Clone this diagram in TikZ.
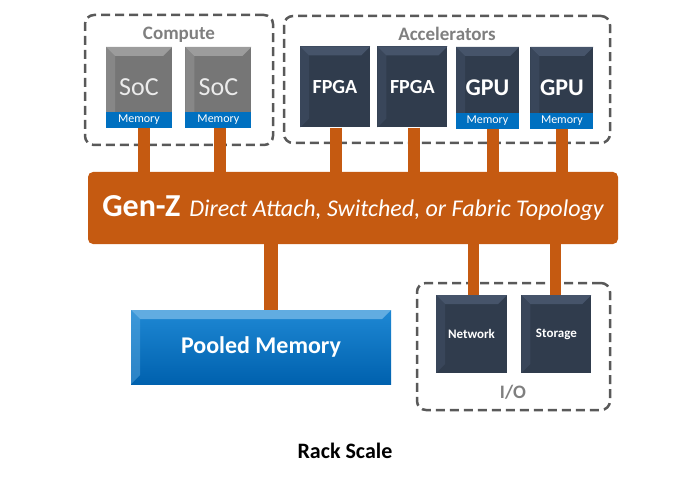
\documentclass[tikz,border=0pt]{standalone}
\usepackage{fontspec}
\setmainfont{Carlito}
\usetikzlibrary{positioning,calc}
\definecolor{genzorange}{HTML}{C55A11}
\definecolor{chipdark}{HTML}{303C4D}
\definecolor{chiptop}{HTML}{46546A}
\definecolor{socgray}{HTML}{767676}
\definecolor{soctop}{HTML}{9C9C9C}
\definecolor{memblue}{HTML}{0070C0}
\definecolor{pooltop}{HTML}{1E88D4}
\definecolor{poolbot}{HTML}{0061AE}
\definecolor{groupgray}{HTML}{595959}
\definecolor{labelgray}{HTML}{7F7F7F}

\begin{document}
\begin{tikzpicture}[x=1pt, y=-1pt,
    bevel/.style={path picture={
      \fill[#1] (path picture bounding box.north west) -- (path picture bounding box.north east)
        -- ([shift={(-9pt,-9pt)}]path picture bounding box.north east)
        -- ([shift={(9pt,-9pt)}]path picture bounding box.north west) -- cycle;
      \fill[#1, opacity=0.45] (path picture bounding box.north west) -- ([shift={(9pt,-9pt)}]path picture bounding box.north west)
        -- ([shift={(9pt,9pt)}]path picture bounding box.south west) -- (path picture bounding box.south west) -- cycle;}},
    chip/.style={fill=chipdark, text=white, inner sep=0pt, minimum width=66pt, minimum height=81pt, bevel=chiptop},
    soc/.style={chip, fill=socgray, bevel=soctop, text=white!92!black, font=\fontsize{26}{26}\selectfont},
    mem/.style={fill=memblue, text=white, inner sep=0pt, minimum width=66pt, minimum height=16pt, font=\fontsize{12}{12}\selectfont},
    group/.style={draw=groupgray, line width=2.5pt, dash pattern=on 9pt off 5pt, rounded corners=9pt},
    grouplabel/.style={text=labelgray, font=\bfseries\fontsize{19}{19}\selectfont},
    bus/.style={fill=genzorange, rounded corners=5pt, text=white, minimum width=530pt, minimum height=72pt},
    link/.style={draw=genzorange, line width=12pt}]
  \useasboundingbox (0,0) rectangle (700,478);

  % groups
  \node[group, minimum width=188pt, minimum height=130pt] (compute) at (179,80) {};
  \node[group, minimum width=326pt, minimum height=127pt] (accel) at (447,79.5) {};
  \node[group, minimum width=193pt, minimum height=127pt] (io) at (513.5,346.5) {};
  \node[grouplabel] (computelbl) at (179,35) {Compute};
  \node[grouplabel] (accellbl) at (447,34) {Accelerators};
  \node[grouplabel] (iolbl) at (513,392) {I/O};

  % compute
  \node[soc] (soc1) at (139,87.5) {SoC};
  \node[soc, right=13pt of soc1] (soc2) {SoC};
  \node[mem, anchor=south] (socmem1) at (soc1.south) {Memory};
  \node[mem, anchor=south] (socmem2) at (soc2.south) {Memory};

  % accelerators
  \node[chip, minimum width=70pt, font=\bfseries\fontsize{20}{20}\selectfont] (fpga1) at (335,87) {FPGA};
  \node[chip, minimum width=70pt, font=\bfseries\fontsize{20}{20}\selectfont, right=7pt of fpga1] (fpga2) {FPGA};
  \node[chip, minimum width=63pt, minimum height=82pt, font=\bfseries\fontsize{24}{24}\selectfont] (gpu1) at (487.5,88) {GPU};
  \node[chip, minimum width=63pt, minimum height=82pt, font=\bfseries\fontsize{24}{24}\selectfont, right=11pt of gpu1] (gpu2) {GPU};
  \node[mem, minimum width=63pt, anchor=south] (gpumem1) at (gpu1.south) {Memory};
  \node[mem, minimum width=63pt, anchor=south] (gpumem2) at (gpu2.south) {Memory};

  % fabric
  \node[bus] (genz) at (353,208) {{\bfseries\fontsize{32}{32}\selectfont Gen-Z}\hspace{9pt}{\itshape\fontsize{24}{24}\selectfont Direct Attach, Switched, or Fabric Topology}};

  % pooled memory and I/O
  \node[top color=pooltop, bottom color=poolbot, bevel=pooltop!70!white, text=white, inner sep=0pt,
        minimum width=260pt, minimum height=74pt, font=\bfseries\fontsize{24}{24}\selectfont] (pool) at (261,347) {Pooled Memory};
  \node[chip, minimum width=71pt, minimum height=78pt, font=\bfseries\fontsize{13}{13}\selectfont] (net) at (471.5,334) {Network};
  \node[chip, minimum width=70pt, minimum height=78pt, font=\bfseries\fontsize{13}{13}\selectfont, right=14pt of net] (stor) {Storage};

  \node[font=\bfseries\fontsize{22}{22}\selectfont] (title) at (345,451) {Rack Scale};

  % links
  \draw[link] ([xshift=5pt]socmem1.south) -- ([xshift=5pt]socmem1.south |- genz.north);
  \draw[link] ([xshift=2pt]socmem2.south) -- ([xshift=2pt]socmem2.south |- genz.north);
  \draw[link] ([xshift=1pt]fpga1.south) -- ([xshift=1pt]fpga1.south |- genz.north);
  \draw[link] ([xshift=2pt]fpga2.south) -- ([xshift=2pt]fpga2.south |- genz.north);
  \draw[link] ([xshift=5pt]gpumem1.south) -- ([xshift=5pt]gpumem1.south |- genz.north);
  \draw[link] (gpumem2.south) -- (gpumem2.south |- genz.north);
  \draw[link, line width=14pt] ([xshift=10pt]pool.north |- genz.south) -- ([xshift=10pt]pool.north);
  \draw[link, line width=11pt] ([xshift=2pt]net.north |- genz.south) -- ([xshift=2pt]net.north);
  \draw[link, line width=11pt] ([xshift=-1pt]stor.north |- genz.south) -- ([xshift=-1pt]stor.north);
\end{tikzpicture}
\end{document}
